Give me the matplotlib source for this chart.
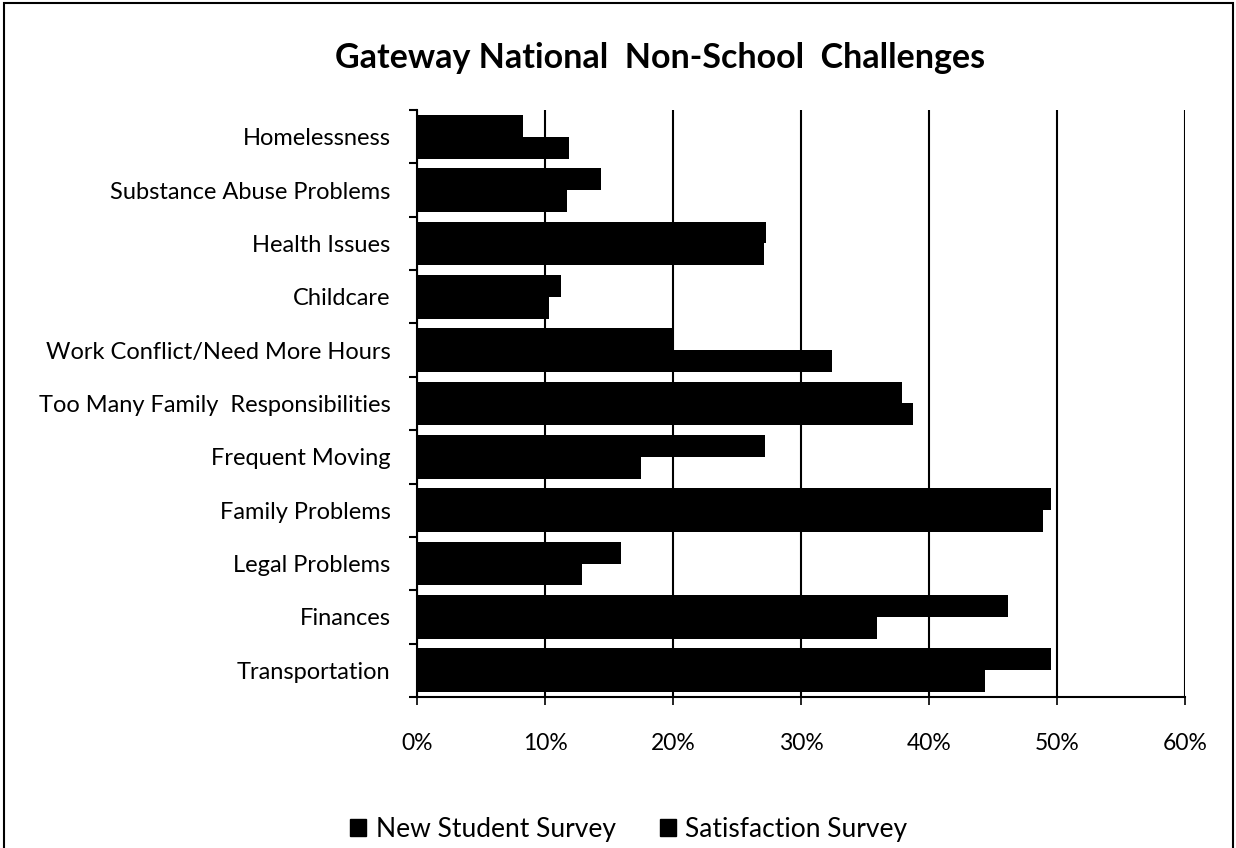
import matplotlib
matplotlib.use("Agg")
import matplotlib.pyplot as plt
import numpy as np
from matplotlib.patches import Rectangle

categories = ["Homelessness", "Substance Abuse Problems", "Health Issues", "Childcare",
              "Work Conflict/Need More Hours", "Too Many Family  Responsibilities",
              "Frequent Moving", "Family Problems", "Legal Problems", "Finances",
              "Transportation"]
new_student = [8.3, 14.4, 27.3, 11.25, 20.0, 37.9, 27.2, 49.5, 15.9, 46.2, 49.5]
satisfaction = [11.85, 11.7, 27.1, 10.3, 32.4, 38.75, 17.5, 48.9, 12.9, 35.9, 44.4]
xticks = [0, 10, 20, 30, 40, 50, 60]
xticklabels = ["0%", "10%", "20%", "30%", "40%", "50%", "60%"]
series_names = ["New Student Survey", "Satisfaction Survey"]

plt.rcParams['font.family'] = ['Lato', 'DejaVu Sans']

fig = plt.figure(figsize=(12.36, 8.48), dpi=100)
ax = fig.add_axes([417/1236, 1-697/848, (1185-417)/1236, (697-110)/848])

n = len(categories)
y = np.arange(n)
h = 0.41
ax.barh(y - h/2, new_student, height=h, color='black', zorder=3)
ax.barh(y + h/2, satisfaction, height=h, color='black', zorder=3)

ax.set_ylim(n - 0.5, -0.5)
ax.set_xlim(0, 60)
ax.set_xticks(xticks)
ax.set_xticklabels(xticklabels, fontsize=16.5)
ax.set_yticks(y)
ax.set_yticklabels(categories, fontsize=17)
ax.tick_params(axis='y', length=0, pad=19)
ax.set_yticks(np.arange(n + 1) - 0.5, minor=True)
ax.tick_params(axis='y', which='minor', length=6, width=1.5, direction='out')
ax.tick_params(axis='x', length=6, width=1.2, direction='out', pad=20)
ax.grid(axis='x', color='black', linewidth=1.5, zorder=1)
ax.spines['top'].set_visible(False)
ax.spines['right'].set_visible(False)
ax.spines['left'].set_linewidth(1.5)
ax.spines['bottom'].set_linewidth(1.5)

fig.text(660/1236, 1-58/848, "Gateway National  Non-School  Challenges",
         ha='center', va='center', fontsize=24.5, fontweight='bold')

handles = [Rectangle((0, 0), 1, 1, color='black') for _ in series_names]
fig.legend(handles, series_names, loc='center', bbox_to_anchor=(629/1236, 1-829/848),
           ncol=2, frameon=False, fontsize=19, handlelength=0.6, handleheight=0.6,
           handletextpad=0.35, columnspacing=1.7)

fig.add_artist(Rectangle((4/1236, -0.01), 1229/1236, 1.0 - 3/848 + 0.01,
                         transform=fig.transFigure, fill=False, edgecolor='black', linewidth=1.5))

fig.savefig("out.png", dpi=100, facecolor='white')
